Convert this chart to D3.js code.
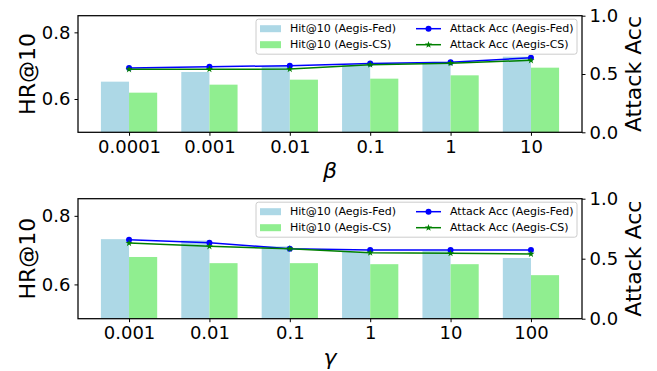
<!DOCTYPE html>
<html>
<head>
<meta charset="utf-8">
<script src="https://cdn.jsdelivr.net/npm/d3@7"></script>
<style>
  body { margin: 0; background: #fff; }
  text { font-family: "DejaVu Sans", sans-serif; }
</style>
</head>
<body>
<div id="chart"></div>
<script>
// data
const betaLabels = ["0.0001", "0.001", "0.01", "0.1", "1", "10"];
const betaHitFed = [0.652, 0.681, 0.699, 0.702, 0.709, 0.727];
const betaHitCS = [0.619, 0.643, 0.658, 0.661, 0.671, 0.694];
const betaAccFed = [0.552, 0.563, 0.571, 0.590, 0.600, 0.640];
const betaAccCS = [0.540, 0.541, 0.542, 0.580, 0.592, 0.617];

const gammaLabels = ["0.001", "0.01", "0.1", "1", "10", "100"];
const gammaHitFed = [0.732, 0.728, 0.711, 0.695, 0.698, 0.677];
const gammaHitCS = [0.680, 0.662, 0.662, 0.659, 0.659, 0.627];
const gammaAccFed = [0.658, 0.633, 0.583, 0.572, 0.572, 0.572];
const gammaAccCS = [0.630, 0.603, 0.583, 0.550, 0.545, 0.539];

const hrTicks = [0.6, 0.8];
const accTicks = [0, 0.5, 1.0];
const legendNames = ["Hit@10 (Aegis-Fed)", "Hit@10 (Aegis-CS)", "Attack Acc (Aegis-Fed)", "Attack Acc (Aegis-CS)"];

const w = 657, h = 371;
const barW = 0.35;
const colFedBar = "#add8e6", colCSBar = "#90ee90";
const colFedLine = "#0000ff", colCSLine = "#008000";

const svg = d3.select("#chart").append("svg")
    .attr("width", w)
    .attr("height", h);

function drawPanel(top, bottom, labels, hitFed, hitCS, accFed, accCS, symbol) {
    const left = 78, right = 582;
    const g = svg.append("g");

    const x = d3.scaleLinear().domain([-0.635, labels.length - 1 + 0.635]).range([left, right]);
    const y = d3.scaleLinear().domain([0.5, 0.85]).range([bottom, top]);
    const y2 = d3.scaleLinear().domain([0, 1]).range([bottom, top]);

    const idx = d3.range(labels.length);

    // bars
    g.selectAll(".fed").data(idx).enter().append("rect")
        .attr("x", i => x(i - barW))
        .attr("width", x(barW) - x(0))
        .attr("y", i => y(hitFed[i]))
        .attr("height", i => bottom - y(hitFed[i]))
        .attr("fill", colFedBar);
    g.selectAll(".cs").data(idx).enter().append("rect")
        .attr("x", i => x(i))
        .attr("width", x(barW) - x(0))
        .attr("y", i => y(hitCS[i]))
        .attr("height", i => bottom - y(hitCS[i]))
        .attr("fill", colCSBar);

    // axes
    g.append("g")
        .attr("transform", `translate(0,${bottom})`)
        .call(d3.axisBottom(x).tickValues(idx).tickFormat(i => labels[i]).tickSize(3.5).tickPadding(4))
        .call(a => a.select(".domain").remove())
        .selectAll("text").style("font-size", "18px").attr("fill", "#000");
    g.append("g")
        .attr("transform", `translate(${left},0)`)
        .call(d3.axisLeft(y).tickValues(hrTicks).tickFormat(d3.format(".1f")).tickSize(3.5).tickPadding(4))
        .call(a => a.select(".domain").remove())
        .selectAll("text").style("font-size", "18px").attr("fill", "#000");
    g.append("g")
        .attr("transform", `translate(${right},0)`)
        .call(d3.axisRight(y2).tickValues(accTicks).tickFormat(d3.format(".1f")).tickSize(3.5).tickPadding(4))
        .call(a => a.select(".domain").remove())
        .selectAll("text").style("font-size", "18px").attr("fill", "#000");

    // lines
    const line = arr => d3.line().x((d, i) => x(i)).y(d => y2(d))(arr);
    g.append("path").attr("d", line(accFed)).attr("fill", "none")
        .attr("stroke", colFedLine).attr("stroke-width", 1.5);
    g.selectAll(".dotFed").data(accFed).enter().append("circle")
        .attr("cx", (d, i) => x(i)).attr("cy", d => y2(d)).attr("r", 3)
        .attr("fill", colFedLine);
    g.append("path").attr("d", line(accCS)).attr("fill", "none")
        .attr("stroke", colCSLine).attr("stroke-width", 1.5);
    g.selectAll(".dotCS").data(accCS).enter().append("path")
        .attr("d", d3.symbol(d3.symbolStar, 16))
        .attr("transform", (d, i) => `translate(${x(i)},${y2(d)})`)
        .attr("fill", colCSLine);

    // frame
    g.append("rect")
        .attr("x", left).attr("y", top)
        .attr("width", right - left).attr("height", bottom - top)
        .attr("fill", "none").attr("stroke", "#000").attr("stroke-width", 1.25);

    // axis titles
    const midY = (top + bottom) / 2;
    g.append("text")
        .attr("transform", `translate(27,${midY}) rotate(-90)`)
        .attr("text-anchor", "middle").attr("dominant-baseline", "central")
        .style("font-size", "22px").text("HR@10");
    g.append("text")
        .attr("transform", `translate(633,${midY}) rotate(-90)`)
        .attr("text-anchor", "middle").attr("dominant-baseline", "central")
        .style("font-size", "22px").text("Attack Acc");
    g.append("text")
        .attr("x", (left + right) / 2).attr("y", bottom + 46)
        .attr("text-anchor", "middle")
        .style("font-size", "22px").style("font-style", "italic").text(symbol);

    // legend
    const lg = g.append("g").attr("transform", `translate(256,${top + 3.5})`);
    lg.append("rect").attr("width", 321).attr("height", 35).attr("rx", 2.5)
        .attr("fill", "#fff").attr("fill-opacity", 0.8)
        .attr("stroke", "#cccccc").attr("stroke-width", 1);
    const rows = [9.5, 25.5];
    [colFedBar, colCSBar].forEach((c, k) => {
        lg.append("rect").attr("x", 4).attr("y", rows[k] - 3.5).attr("width", 21).attr("height", 7).attr("fill", c);
        lg.append("text").attr("x", 34).attr("y", rows[k]).attr("dominant-baseline", "central")
            .style("font-size", "11px").text(legendNames[k]);
    });
    [colFedLine, colCSLine].forEach((c, k) => {
        lg.append("line").attr("x1", 160).attr("x2", 185).attr("y1", rows[k]).attr("y2", rows[k])
            .attr("stroke", c).attr("stroke-width", 1.5);
        if (k === 0) {
            lg.append("circle").attr("cx", 172.5).attr("cy", rows[k]).attr("r", 3).attr("fill", c);
        } else {
            lg.append("path").attr("d", d3.symbol(d3.symbolStar, 16))
                .attr("transform", `translate(172.5,${rows[k]})`).attr("fill", c);
        }
        lg.append("text").attr("x", 194).attr("y", rows[k]).attr("dominant-baseline", "central")
            .style("font-size", "11px").text(legendNames[k + 2]);
    });
}

drawPanel(15.7, 132.3, betaLabels, betaHitFed, betaHitCS, betaAccFed, betaAccCS, "β");
drawPanel(198.7, 318.7, gammaLabels, gammaHitFed, gammaHitCS, gammaAccFed, gammaAccCS, "γ");
</script>
</body>
</html>
